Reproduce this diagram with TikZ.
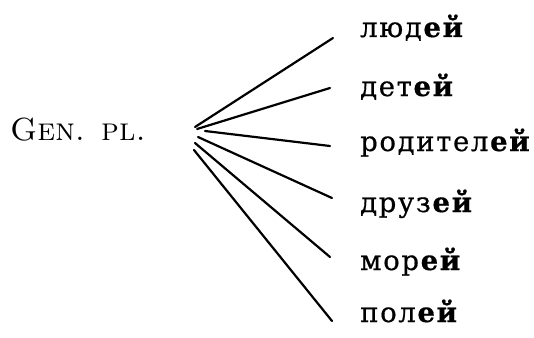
\documentclass[tikz,border=0pt]{standalone}
\usepackage{fontspec}
\usepackage{tikz}
\usetikzlibrary{positioning}
\newfontfamily\cyrfont[LetterSpace=6, FakeBold=0.6]{DejaVu Serif}
\newcommand{\stemend}[2]{#1\textbf{#2}}
\tikzset{
  fanline/.style={line width=2.2pt, line cap=round},
  wordnode/.style={anchor=base west, inner sep=0pt, font=\cyrfont\fontsize{27.5}{27.5}\selectfont},
  labelnode/.style={anchor=base west, inner sep=0pt, font=\fontsize{32}{32}\selectfont}
}
\begin{document}
\begin{tikzpicture}[x=1pt, y=-1pt]
  \useasboundingbox (0,0) rectangle (534,337);
  \node[labelnode] (gen) at (10,140) {\textsc{Gen. pl.}};
  % fan of endings
  \coordinate (hub) at (195,127);
  \coordinate (e1) at (333,38);
  \coordinate (e2) at (330,88);
  \coordinate (e3) at (330,146);
  \coordinate (e4) at (332,198);
  \coordinate (e5) at (330,257);
  \coordinate (e6) at (332,321);
  \node[wordnode] (w1) at (360,37) {\stemend{люд}{ей}};
  \node[wordnode] (w2) at (360,96) {\stemend{дет}{ей}};
  \node[wordnode] (w3) at (360,151) {\stemend{родител}{ей}};
  \node[wordnode] (w4) at (360,212) {\stemend{друз}{ей}};
  \node[wordnode] (w5) at (360,270) {\stemend{мор}{ей}};
  \node[wordnode] (w6) at (360,322) {\stemend{пол}{ей}};
  \draw[fanline] (hub) -- (e1);
  \draw[fanline] ([shift={(2,2)}]hub) -- (e2);
  \draw[fanline] ([shift={(10,4)}]hub) -- (e3);
  \draw[fanline] ([shift={(3,10)}]hub) -- (e4);
  \draw[fanline] ([shift={(0,16)}]hub) -- (e5);
  \draw[fanline] ([shift={(-1,23)}]hub) -- (e6);
\end{tikzpicture}
\end{document}
